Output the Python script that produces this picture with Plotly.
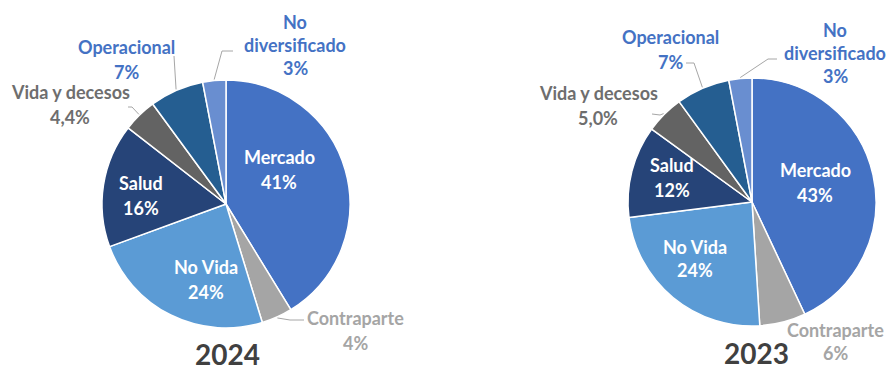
import math
import plotly.graph_objects as go

W, H = 890, 371

categories = ["Mercado", "Contraparte", "No Vida", "Salud",
              "Vida y decesos", "Operacional", "No diversificado"]
values_2024 = [41, 4, 24, 16, 4.4, 7, 3]
values_2023 = [43, 6, 24, 12, 5.0, 7, 3]
decimals = [0, 0, 0, 0, 1, 0, 0]
years = ["2024", "2023"]

colors = ["#4472C4", "#A5A5A5", "#5B9BD5", "#264478",
          "#636363", "#255E91", "#698ED0"]
label_colors = ["#FFFFFF", "#A5A5A5", "#FFFFFF", "#FFFFFF",
                "#6E6E6E", "#4472C4", "#4472C4"]
name_lines = [["Mercado"], ["Contraparte"], ["No Vida"], ["Salud"],
              ["Vida y decesos"], ["Operacional"], ["No", "diversificado"]]

# pie placement in pixels: centre x, centre y, radius
pies = [dict(cx=226, cy=204, r=124), dict(cx=752, cy=202, r=124)]

# label anchors (pixel): centre x, first-line y, line step
label_pos = [
    [(279, 157, 25), (355, 318, 25), (206, 267, 25), (141, 183, 25),
     (70, 92, 25), (126, 47, 25), (295, 22, 23)],
    [(815, 170, 25), (835, 330, 23), (695, 247, 23), (672, 165, 25),
     (598, 93, 25), (670, 37, 25), (835, 30, 23)],
]
# leader-line bends (pixel) for the outside labels
leader_bends = [
    {1: [(290, 320), (304, 320)], 4: [(132, 107), (128, 107)],
     5: [(174, 56)], 6: [(222, 51), (233, 51)]},
    {4: [(660, 115), (652, 114)], 5: [(694, 63), (686, 63)],
     6: [(768, 59), (777, 59)]},
]
title_pos = [(228, 354), (756, 353)]


def px(x):
    return x / W


def py(y):
    return 1 - y / H


def fmt(v, d):
    return f"{v:.{d}f}%".replace(".", ",")


fig = go.Figure()
annotations = []
shapes = []
FONT = "Lato"

for k, vals in enumerate([values_2024, values_2023]):
    p = pies[k]
    fig.add_trace(go.Pie(
        labels=categories, values=vals, sort=False, direction="clockwise",
        rotation=0, textinfo="none", showlegend=False,
        marker=dict(colors=colors, line=dict(color="#FFFFFF", width=1.5)),
        domain=dict(x=[px(p["cx"] - p["r"]), px(p["cx"] + p["r"])],
                    y=[py(p["cy"] + p["r"]), py(p["cy"] - p["r"])]),
    ))

    total = sum(vals)
    cum = 0
    for i, v in enumerate(vals):
        mid = (cum + v / 2) / total * 2 * math.pi
        cum += v
        lines = name_lines[i] + [fmt(v, decimals[i])]
        cx, y0, step = label_pos[k][i]
        for j, t in enumerate(lines):
            annotations.append(dict(
                x=px(cx), y=py(y0 + j * step), xref="paper", yref="paper",
                text=f"<b>{t}</b>", showarrow=False, xanchor="center",
                yanchor="middle",
                font=dict(family=FONT, size=18, color=label_colors[i])))
        bends = leader_bends[k].get(i)
        if bends:
            ex = p["cx"] + (p["r"] + 1) * math.sin(mid)
            ey = p["cy"] - (p["r"] + 1) * math.cos(mid)
            pts = [(ex, ey)] + bends
            path = "M " + " L ".join(f"{px(a)},{py(b)}" for a, b in pts)
            shapes.append(dict(type="path", path=path, xref="paper",
                               yref="paper",
                               line=dict(color="#A6A6A6", width=1)))

    tx, ty = title_pos[k]
    annotations.append(dict(
        x=px(tx), y=py(ty), xref="paper", yref="paper",
        text=f"<b>{years[k]}</b>", showarrow=False, xanchor="center",
        yanchor="middle", font=dict(family=FONT, size=28, color="#404040")))

fig.update_layout(
    width=W, height=H, margin=dict(l=0, r=0, t=0, b=0),
    paper_bgcolor="#FFFFFF", plot_bgcolor="#FFFFFF",
    annotations=annotations, shapes=shapes,
)

fig.write_html("out.html")
